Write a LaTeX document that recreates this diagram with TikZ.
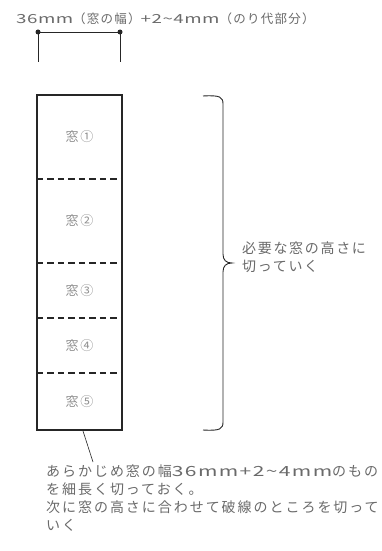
\documentclass[tikz,border=0pt]{standalone}
\usepackage{fontspec}
\newfontfamily\jp{Noto Sans CJK JP}[LetterSpace=14]
\newfontfamily\jpb{Noto Sans CJK JP}[LetterSpace=12]
\newfontfamily\jpt{Noto Sans CJK JP}[LetterSpace=10]
\newfontfamily\lat{Noto Sans CJK JP}[FakeStretch=1.5,LetterSpace=4]
\newfontfamily\latb{Noto Sans CJK JP}[FakeStretch=1.5,LetterSpace=10]
\definecolor{txt}{HTML}{6a6a6a}
\definecolor{ink}{HTML}{262626}
\begin{document}
\begin{tikzpicture}[x=1pt,y=-1pt,
  cell/.style={draw=none,inner sep=0pt,minimum width=85pt,text=txt!75,font=\jpb\fontsize{13}{15}\selectfont},
  cutline/.style={ink,line width=1.8pt,dash pattern=on 6.5pt off 4pt},
  dimline/.style={ink,line width=0.9pt},
  label/.style={text=txt,inner sep=0pt,align=left}]
\useasboundingbox (0,0) rectangle (381,551);
\fill[white] (0,0) rectangle (381,551);
% top text
\node[label,anchor=west,font=\jpt\fontsize{12.5}{14}\selectfont] (title) at (16,19) {{\lat 36mm}（窓の幅）{\lat +2\char"007E 4mm}（のり代部分）};
% dimension
\coordinate (d1) at (38,32);
\coordinate (d2) at (120,32);
\coordinate (d1b) at (38,62);
\coordinate (d2b) at (120,62);
\draw[dimline] (d1b) -- (d1) -- (d2) -- (d2b);
\fill[ink] (d1) circle (2.5) (d2) circle (2.5);
% strip cells
\node[cell,minimum height=84pt] (c1) at (79.5,137) {窓①};
\node[cell,minimum height=84pt] (c2) at (79.5,221) {窓②};
\node[cell,minimum height=55pt] (c3) at (79.5,290.5) {窓③};
\node[cell,minimum height=55pt] (c4) at (79.5,345.5) {窓④};
\node[cell,minimum height=57pt] (c5) at (79.5,401.5) {窓⑤};
\draw[ink,line width=1.7pt] (c1.north west) rectangle (c5.south east);
\draw[cutline] (c1.south west) -- (c1.south east);
\draw[cutline] (c2.south west) -- (c2.south east);
\draw[cutline] (c3.south west) -- (c3.south east);
\draw[cutline] (c4.south west) -- (c4.south east);
% brace
\coordinate (bt) at (203,96);
\coordinate (bm) at (232,263);
\coordinate (bb) at (203,430);
\draw[ink,line width=0.9pt] (bt) .. controls (220,95) and (223,97) .. (223,104)
  -- (223,254) .. controls (223,260) and (226,263) .. (bm)
  .. controls (226,263) and (223,266) .. (223,272)
  -- (223,422) .. controls (223,429) and (220,431) .. (bb);
\node[label,anchor=north west,font=\jpb\fontsize{14}{18}\selectfont] (blab) at (242,242) {必要な窓の高さに\\切っていく};
% leader and note
\coordinate (ls) at (83,431);
\coordinate (le) at (93,462);
\draw[ink,line width=0.6pt] (ls) -- (le);
\node[label,anchor=north west,font=\jp\fontsize{14}{17.7}\selectfont] (note) at (46,465) {あらかじめ窓の幅{\latb 36mm+2\char"007E 4mm}のもの\\を細長く切っておく。\\次に窓の高さに合わせて破線のところを切って\\いく};
\end{tikzpicture}
\end{document}
